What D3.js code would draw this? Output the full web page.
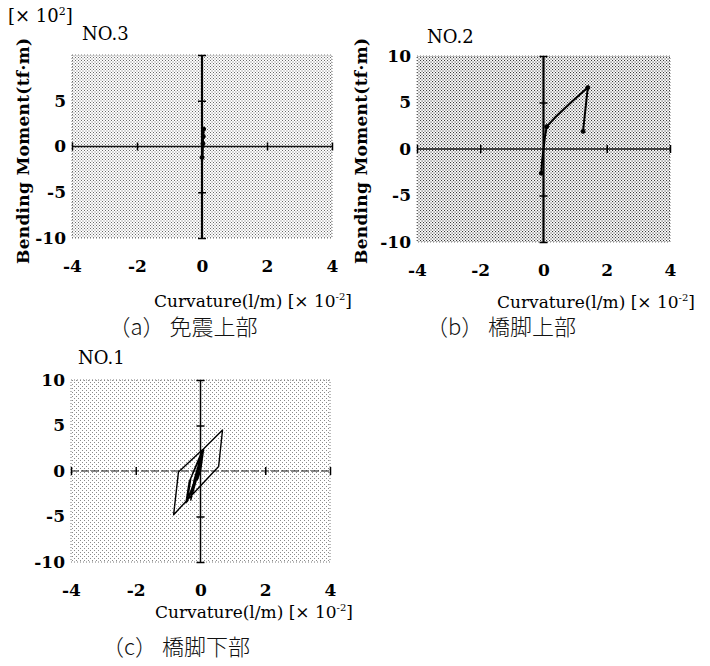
<!DOCTYPE html>
<html><head><meta charset="utf-8">
<script src="https://cdn.jsdelivr.net/npm/d3@7/dist/d3.min.js"></script>
<style>body{margin:0;background:#fff}svg{display:block}</style>
</head><body>
<svg id="c" width="710" height="666"></svg>
<script>
// ---- data ----
const xTicks = [-4, -2, 0, 2, 4];
const yTicksA = [5, 0, -5, -10];
const yTicksBC = [10, 5, 0, -5, -10];
const crossXTicks = [-4, -2, 2, 4];
const crossYTicks = [10, 5, -5, -10];
// NO.3 (a) curvature, moment
const curvA = [0.0, 0.03, 0.05, 0.04, 0.02, 0.0, 0.0, 0.02, 0.03];
const momA  = [0.0, 1.0, 1.9, 1.1, 0.0, -1.2, -1.6, -0.8, 0.3];
const markA = [[0.05, 1.9], [0.04, 1.1], [0.0, -1.2], [0.03, 0.3]];
// NO.2 (b)
const curvB = [-0.07, -0.05, 0.0, 0.05, 0.1, 0.4, 0.9, 1.4, 1.25];
const momB  = [-2.6, -1.5, 0.0, 1.4, 2.4, 3.5, 5.1, 6.6, 1.9];
const markB = [[-0.07, -2.6], [0.1, 2.4], [1.4, 6.6], [1.25, 1.9]];
// NO.1 (c)
const curvC = [0.0, 0.05, 0.08, 0.0, -0.25, -0.3, -0.2, 0.05, 0.1, -0.05, -0.4, -0.45, -0.35, 0.06,
               0.68, 0.56, -0.83, -0.68, 0.05, -0.05, -0.4, -0.3, 0.05, -0.1, -0.3, -0.15, 0.02, -0.1, 0.0];
const momC  = [0.0, 1.2, 2.0, 0.6, -2.5, -3.2, -1.0, 2.1, 2.3, 0.4, -3.3, -3.5, -1.2, 2.3,
               4.5, 0.5, -4.8, -0.1, 2.3, 0.2, -3.2, -0.8, 2.0, -0.5, -2.8, -0.5, 1.5, -1.0, 0.0];
const labels = {
  xLabel: "Curvature(l/m) [\u00d7 10",
  yLabel: "Bending  Moment(tf\u00b7m)",
  capA: "\uff08a\uff09 免震上部",
  capB: "\uff08b\uff09 橋脚上部",
  capC: "\uff08c\uff09 橋脚下部"
};

const svg = d3.select("#c");
const defs = svg.append("defs");
function pattern(id, size, color, r) {
  const p = defs.append("pattern").attr("id", id).attr("patternUnits", "userSpaceOnUse")
    .attr("width", size).attr("height", size);
  p.append("rect").attr("x", 0).attr("y", 0).attr("width", r).attr("height", r).attr("fill", color);
  p.append("rect").attr("x", size / 2).attr("y", size / 2).attr("width", r).attr("height", r).attr("fill", color);
}
pattern("pa", 3, "#6a6a6a", 1);
pattern("pb", 3, "#3a3a3a", 1.1);
pattern("pc", 4, "#8a8a8a", 1);

const serif = "'DejaVu Serif','Liberation Serif',serif";

function panel(o) {
  const x = d3.scaleLinear().domain([-4, 4]).range([o.x0, o.x1]);
  const y = d3.scaleLinear().domain([-10, 10]).range([o.yb, o.yt]);
  const g = svg.append("g");
  g.append("rect").attr("x", o.x0).attr("y", o.yt).attr("width", o.x1 - o.x0).attr("height", o.yb - o.yt)
    .attr("fill", "url(#" + o.pat + ")").attr("stroke", "#777").attr("stroke-width", 1).attr("stroke-dasharray", "1,2");

  // tick labels via axes
  const bx = g.append("g").attr("transform", `translate(0,${o.yb})`)
    .call(d3.axisBottom(x).tickValues(xTicks).tickSize(0).tickPadding(22).tickFormat(d3.format("d")));
  bx.select(".domain").remove();
  bx.selectAll("text").attr("font-family", serif).attr("font-size", 17).attr("font-weight", "bold").attr("fill", "#000")
    .text(d => d < 0 ? "-" + Math.abs(d) : d);
  const ly = g.append("g").attr("transform", `translate(${o.x0 - 4},0)`)
    .call(d3.axisLeft(y).tickValues(o.yTicks).tickSize(0).tickPadding(2));
  ly.select(".domain").remove();
  ly.selectAll("text").attr("font-family", serif).attr("font-size", 17).attr("font-weight", "bold").attr("fill", "#000")
    .text(d => d < 0 ? "-" + Math.abs(d) : d);

  // zero-crossing axes
  const hx = g.append("g").attr("transform", `translate(0,${y(0)})`)
    .call(d3.axisBottom(x).tickValues(crossXTicks).tickSize(4).tickFormat(""));
  hx.select(".domain").attr("d", `M${o.x0},0H${o.x1}`).attr("stroke", "#111").attr("stroke-width", o.hw)
    .attr("stroke-dasharray", o.hdash || null);
  hx.selectAll(".tick line").attr("y1", -4).attr("y2", 4).attr("stroke", "#000").attr("stroke-width", 1.5);
  const vy = g.append("g").attr("transform", `translate(${x(0)},0)`)
    .call(d3.axisLeft(y).tickValues(crossYTicks).tickSize(4).tickFormat(""));
  vy.select(".domain").attr("d", `M0,${o.yt}V${o.yb}`).attr("stroke", "#000").attr("stroke-width", o.vw);
  vy.selectAll(".tick line").attr("x1", -4).attr("x2", 4).attr("stroke", "#000").attr("stroke-width", 1.5);

  // data
  const pts = o.cx.map((c, i) => [c, o.my[i]]);
  g.append("path").datum(pts)
    .attr("d", d3.line().x(d => x(d[0])).y(d => y(d[1])))
    .attr("fill", "none").attr("stroke", "#000").attr("stroke-width", o.dw).attr("stroke-linejoin", "round");
  if (o.marks) g.selectAll(null).data(o.marks).join("circle")
    .attr("cx", d => x(d[0])).attr("cy", d => y(d[1])).attr("r", 2)
    .attr("fill", "#000").attr("stroke", "#000").attr("stroke-width", 1);

  // title
  g.append("text").attr("x", o.nx).attr("y", o.ny).attr("font-family", serif).attr("font-size", 18)
    .attr("fill", "#000").text(o.no);
  // x label
  const xl = g.append("text").attr("x", o.xlx).attr("y", o.xly).attr("font-family", serif).attr("font-size", 17)
    .attr("fill", "#000").attr("text-anchor", "end");
  xl.append("tspan").text(labels.xLabel);
  xl.append("tspan").attr("font-size", 10).attr("dy", -7).text("-2");
  xl.append("tspan").attr("dy", 7).text("]");
  if (o.ylx) {
    g.append("text").attr("transform", `translate(${o.ylx},${o.yly}) rotate(-90)`)
      .attr("font-family", serif).attr("font-size", 17).attr("font-weight", "bold").attr("fill", "#000")
      .attr("text-anchor", "start").attr("textLength", 226).text(labels.yLabel);
  }
  g.append("text").attr("x", o.capx).attr("y", o.capy).attr("font-family", "'Noto Sans CJK JP',sans-serif")
    .attr("font-size", 22).attr("font-weight", 300).attr("fill", "#111").attr("text-anchor", "middle").text(o.cap);
  return {x, y};
}

panel({x0: 72, x1: 332, yt: 55, yb: 238, pat: "pa", yTicks: yTicksA, hw: 1.6, vw: 2.2, dw: 2,
  cx: curvA, my: momA, marks: markA, no: "NO.3", nx: 82, ny: 40,
  xlx: 352, xly: 307, ylx: 29, yly: 264, cap: labels.capA, capx: 183, capy: 335});
panel({x0: 417, x1: 670, yt: 56, yb: 242, pat: "pb", yTicks: yTicksBC, hw: 1.6, vw: 2.2, dw: 2,
  cx: curvB, my: momB, marks: markB, no: "NO.2", nx: 427, ny: 43,
  xlx: 695, xly: 308, ylx: 367, yly: 264, cap: labels.capB, capx: 501, capy: 335});
panel({x0: 71, x1: 330, yt: 380, yb: 562, pat: "pc", yTicks: yTicksBC, hw: 1.2, hdash: "8,2", vw: 1.5, dw: 1.4,
  cx: curvC, my: momC, marks: null, no: "NO.1", nx: 78, ny: 364,
  xlx: 353, xly: 618, ylx: null, cap: labels.capC, capx: 176, capy: 655});

// [x10^2] multiplier
const m = svg.append("text").attr("x", 8).attr("y", 22).attr("font-family", serif).attr("font-size", 18)
  .attr("fill", "#000");
m.append("tspan").text("[\u00d7 10");
m.append("tspan").attr("font-size", 11).attr("dy", -7).text("2");
m.append("tspan").attr("dy", 7).text("]");
</script>
</body></html>
